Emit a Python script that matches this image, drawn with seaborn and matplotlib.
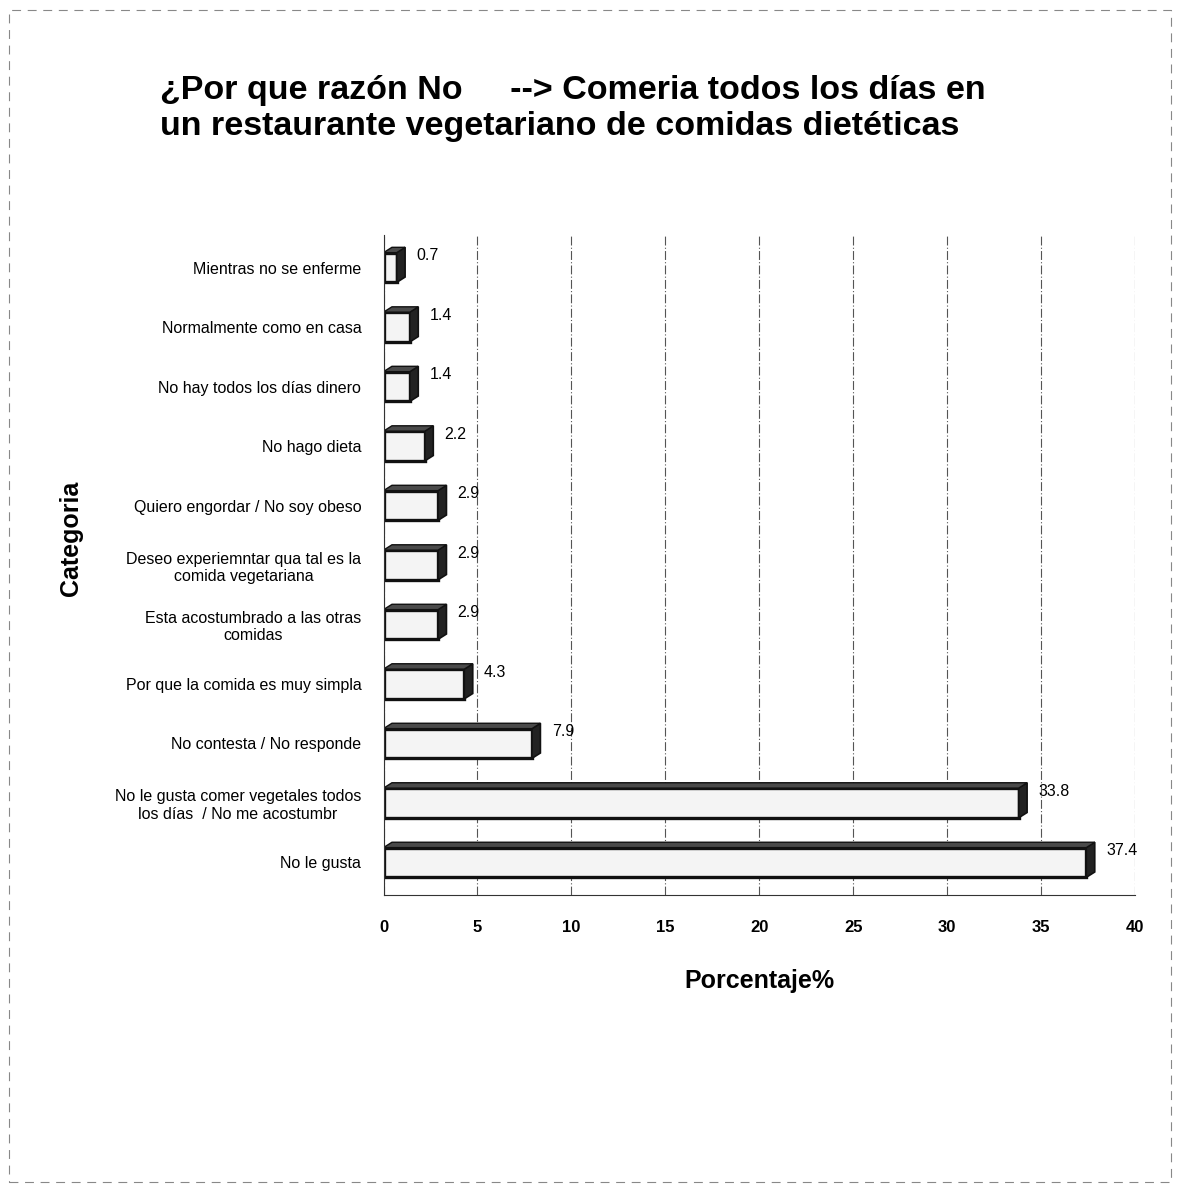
import pandas as pd
import numpy as np
import matplotlib
matplotlib.use("Agg")
import matplotlib.pyplot as plt
from matplotlib.patches import Polygon, Rectangle
import seaborn as sns

# Datos
categorias = [
    "Mientras no se enferme",
    "Normalmente como en casa",
    "No hay todos los días dinero",
    "No hago dieta",
    "Quiero engordar / No soy obeso",
    "Deseo experiemntar qua tal es la\ncomida vegetariana",
    "Esta acostumbrado a las otras\ncomidas",
    "Por que la comida es muy simpla",
    "No contesta / No responde",
    "No le gusta comer vegetales todos\nlos días  / No me acostumbr",
    "No le gusta",
]
porcentajes = [0.7, 1.4, 1.4, 2.2, 2.9, 2.9, 2.9, 4.3, 7.9, 33.8, 37.4]
ticks_x = [0, 5, 10, 15, 20, 25, 30, 35, 40]

df = pd.DataFrame({"categoria": categorias, "porcentaje": porcentajes})

sns.set_style("white")
plt.rcParams["font.family"] = ["Liberation Sans", "DejaVu Sans"]
plt.rcParams["text.color"] = "black"
plt.rcParams["axes.labelcolor"] = "black"
plt.rcParams["xtick.color"] = "black"
plt.rcParams["ytick.color"] = "black"

fig = plt.figure(figsize=(11.8, 11.92), dpi=100)
ax = fig.add_axes([0.325, 0.249, 0.637, 0.554])

sns.barplot(data=df, y="categoria", x="porcentaje", orient="h", ax=ax,
            color="#f4f4f4", edgecolor="#111111", linewidth=2.4, width=0.5)

# efecto 3D: cara lateral y superior a partir de cada barra
dx, dy = 0.45, 0.09
for p in ax.patches:
    x0, y0 = p.get_x(), p.get_y()
    w, h = p.get_width(), p.get_height()
    lado = Polygon([(x0 + w, y0), (x0 + w + dx, y0 - dy),
                    (x0 + w + dx, y0 + h - dy), (x0 + w, y0 + h)],
                   closed=True, facecolor="#222222", edgecolor="#111", lw=1.2)
    arriba = Polygon([(x0, y0), (x0 + dx, y0 - dy), (x0 + w + dx, y0 - dy), (x0 + w, y0)],
                     closed=True, facecolor="#4a4a4a", edgecolor="#111", lw=1.0)
    ax.add_patch(lado)
    ax.add_patch(arriba)
    ax.text(x0 + w + dx + 0.6, y0 + h * 0.1, f"{w:g}", fontsize=11.5,
            ha="left", va="center")

ax.set_xlim(0, 40)
ax.set_ylim(len(categorias) - 0.45, -0.55)
ax.set_xticks(ticks_x)
ax.set_xticklabels([str(t) for t in ticks_x], fontsize=12, fontweight="bold")
ax.tick_params(axis="x", length=8, pad=10, direction="out")
ax.tick_params(axis="y", length=0, pad=16, labelsize=11.5)
for lab in ax.get_yticklabels():
    lab.set_multialignment("center")

# separadores entre categorias
ax.set_yticks(np.arange(len(categorias) - 1) + 0.5, minor=True)
ax.tick_params(axis="y", which="minor", length=12, width=0.9, color="#333")

ax.grid(axis="x", color="#555", linestyle=(0, (8, 2, 1, 2)), linewidth=0.8)
ax.set_axisbelow(True)
sns.despine(ax=ax, top=True, right=True)
ax.spines["left"].set_color("#333")
ax.spines["bottom"].set_color("#333")

ax.set_xlabel("Porcentaje%", fontsize=18, fontweight="bold", labelpad=24)
ax.set_ylabel("Categoria", fontsize=18, fontweight="bold")
ax.yaxis.set_label_coords(-0.40, 0.54)

fig.text(0.136, 0.937, "¿Por que razón No     --> Comeria todos los días en\n"
         "un restaurante vegetariano de comidas dietéticas",
         fontsize=24.5, fontweight="bold", ha="left", va="top", linespacing=1.2)

# marco punteado del escaneo
fig.patches.append(Rectangle((0.008, 0.008), 0.984, 0.984, transform=fig.transFigure,
                             fill=False, edgecolor="#888", linestyle=(0, (8, 6)), lw=0.8))

fig.savefig("out.png", dpi=100)
